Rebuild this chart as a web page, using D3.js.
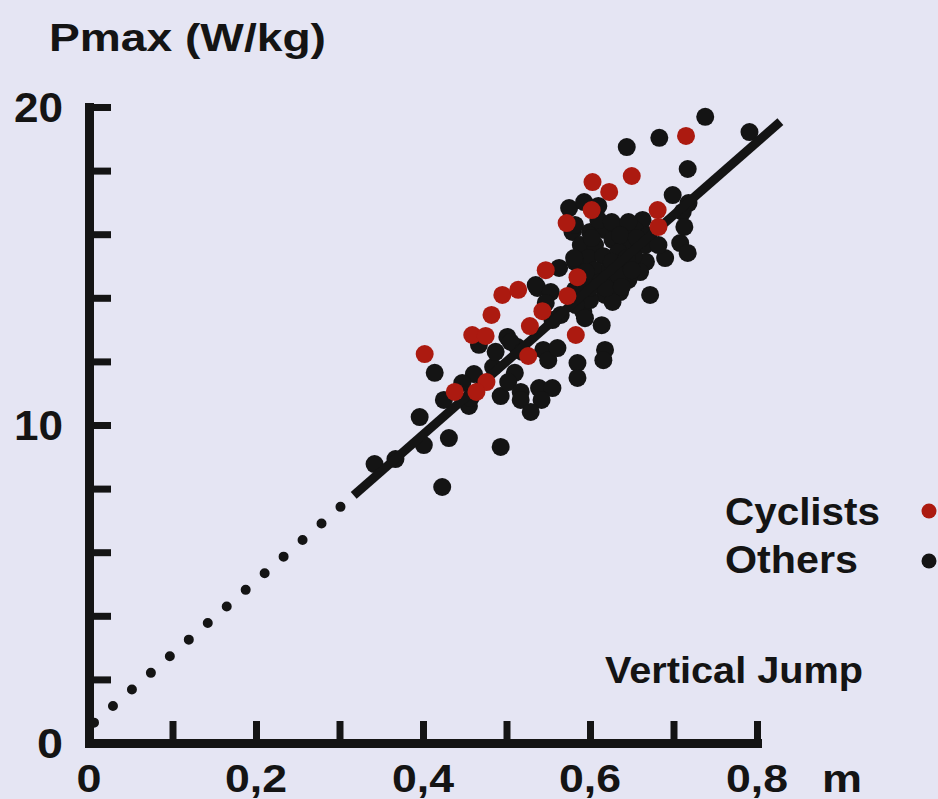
<!DOCTYPE html>
<html>
<head>
<meta charset="utf-8">
<script src="https://cdn.jsdelivr.net/npm/d3@7/dist/d3.min.js"></script>
<style>
  html, body { margin: 0; padding: 0; background: #e5e5f3; }
  svg { display: block; }
  text { font-family: "Liberation Sans", Arial, sans-serif; font-weight: bold; fill: #141414; }
</style>
</head>
<body>
<svg id="chart" width="938" height="799"></svg>
<script>
// ---- data ----
const xTicks = [0.1, 0.2, 0.3, 0.4, 0.5, 0.6, 0.7, 0.8];
const xLabels = [0, 0.2, 0.4, 0.6, 0.8];
const yTicks = [2, 4, 6, 8, 10, 12, 14, 16, 18, 20];
const yLabels = [0, 10, 20];

const cyclists = [
  [0.715,19.09],[0.650,17.83],[0.603,17.64],[0.623,17.33],[0.602,16.76],[0.681,16.76],
  [0.572,16.35],[0.682,16.23],[0.547,14.87],[0.585,14.65],[0.495,14.09],[0.514,14.25],
  [0.573,14.06],[0.482,13.46],[0.543,13.58],[0.528,13.11],[0.459,12.83],[0.475,12.80],
  [0.583,12.83],[0.402,12.23],[0.526,12.17],[0.476,11.35],[0.438,11.04],[0.464,11.04]
];

const others = [
  [0.738,19.69],[0.791,19.21],[0.683,19.03],[0.644,18.74],[0.717,18.05],[0.699,17.23],
  [0.718,16.98],[0.711,16.70],[0.575,16.82],[0.593,17.01],[0.610,16.89],[0.663,16.45],
  [0.713,16.23],[0.708,15.72],[0.717,15.41],[0.690,15.25],[0.667,15.13],[0.672,14.09],
  [0.563,14.94],[0.537,14.31],[0.592,13.55],[0.614,13.14],[0.618,12.36],[0.616,12.04],
  [0.467,12.52],[0.501,12.77],[0.513,12.45],[0.544,12.36],[0.550,12.04],[0.414,11.64],
  [0.461,11.60],[0.484,11.82],[0.510,11.64],[0.585,11.95],[0.585,11.48],[0.447,11.32],
  [0.493,10.91],[0.502,11.35],[0.517,11.04],[0.517,10.79],[0.539,11.16],[0.555,11.16],
  [0.542,10.79],[0.529,10.41],[0.425,10.79],[0.455,10.60],[0.457,10.85],[0.396,10.25],
  [0.431,9.59],[0.401,9.37],[0.493,9.31],[0.342,8.77],[0.367,8.93],[0.423,8.05],
  // dense cluster
  [0.600,16.07],[0.618,16.13],[0.636,16.19],[0.654,16.13],[0.670,15.97],[0.579,16.07],
  [0.589,15.66],[0.606,15.66],[0.627,15.82],[0.646,15.75],[0.666,15.66],[0.682,15.66],
  [0.598,15.25],[0.616,15.31],[0.634,15.44],[0.652,15.31],[0.582,15.13],
  [0.606,14.87],[0.624,14.94],[0.642,15.00],[0.660,14.81],
  [0.610,14.47],[0.628,14.56],[0.646,14.56],[0.618,14.09],[0.636,14.18],
  [0.600,13.93],[0.627,13.87],
  [0.582,16.29],[0.610,16.45],[0.626,16.38],[0.646,16.38],[0.602,15.88],[0.636,15.97],
  [0.656,15.88],[0.581,15.25],[0.626,15.13],[0.644,15.25],[0.595,14.81],[0.634,14.72],
  [0.650,14.87],[0.600,14.31],[0.619,14.31],[0.638,14.34],[0.582,14.25],
  // along the fit line, lower cluster
  [0.565,13.46],[0.583,13.77],[0.594,13.36],[0.555,13.30],[0.535,14.40],[0.553,14.18],
  [0.547,13.84],[0.505,12.61],[0.519,12.30],[0.561,12.42],[0.487,12.30]
];

const fitDotted = [[0.006, 0.64], [0.317, 7.79]];
const fitSolid  = [[0.317, 7.79], [0.828, 19.54]];

const legendItems = ["Cyclists", "Others"];

// ---- drawing ----
const svg = d3.select("#chart");
const ink = "#141414";
const red = "#ac1a10";

const x = d3.scaleLinear().domain([0, 0.8]).range([89, 757]);
const y = d3.scaleLinear().domain([0, 20]).range([743, 107]);

// axes (ticks inward)
const xAxis = d3.axisBottom(x).tickValues(xTicks).tickSizeInner(-22).tickSizeOuter(0).tickFormat("");
const yAxis = d3.axisLeft(y).tickValues(yTicks).tickSizeInner(-22).tickSizeOuter(0).tickFormat("");

const gx = svg.append("g").attr("transform", `translate(0,${y(0)})`).call(xAxis);
const gy = svg.append("g").attr("transform", `translate(${x(0)},0)`).call(yAxis);
[gx, gy].forEach(g => {
  g.select(".domain").attr("stroke", ink).attr("stroke-width", 9).attr("stroke-linecap", "square");
  g.selectAll(".tick line").attr("stroke", ink).attr("stroke-width", 7);
});

// tick labels
const fmt = v => v === 0 ? "0" : d3.format(".1f")(v).replace(".", ",");
svg.append("g").selectAll("text").data(xLabels).join("text")
  .attr("x", d => x(d) - (d === 0 ? 12.5 : 31))
  .attr("y", 792)
  .attr("font-size", 39)
  .attr("textLength", d => d === 0 ? 25 : 62)
  .attr("lengthAdjust", "spacingAndGlyphs")
  .text(fmt);

svg.append("g").selectAll("text").data(yLabels).join("text")
  .attr("x", d => d === 0 ? 37 : 14)
  .attr("y", d => y(d) + 15)
  .attr("font-size", 42)
  .attr("textLength", d => d === 0 ? 26 : 49)
  .attr("lengthAdjust", "spacingAndGlyphs")
  .text(d => String(d));

// titles
svg.append("text").attr("x", 49).attr("y", 51).attr("font-size", 39)
  .attr("textLength", 277).attr("lengthAdjust", "spacingAndGlyphs").text("Pmax (W/kg)");
svg.append("text").attr("x", 605).attr("y", 683).attr("font-size", 37)
  .attr("textLength", 258).attr("lengthAdjust", "spacingAndGlyphs").text("Vertical Jump");
svg.append("text").attr("x", 822).attr("y", 792).attr("font-size", 39)
  .attr("textLength", 40).attr("lengthAdjust", "spacingAndGlyphs").text("m");

// points: others
svg.append("g").selectAll("circle").data(others).join("circle")
  .attr("cx", d => x(d[0])).attr("cy", d => y(d[1])).attr("r", 9).attr("fill", ink);

// fit line
const line = d3.line().x(d => x(d[0])).y(d => y(d[1]));
svg.append("path").datum(fitDotted).attr("d", line)
  .attr("fill", "none").attr("stroke", ink).attr("stroke-width", 10)
  .attr("stroke-linecap", "round").attr("stroke-dasharray", "0 25.2");
svg.append("path").datum(fitSolid).attr("d", line)
  .attr("fill", "none").attr("stroke", ink).attr("stroke-width", 9);

// points: cyclists
svg.append("g").selectAll("circle").data(cyclists).join("circle")
  .attr("cx", d => x(d[0])).attr("cy", d => y(d[1])).attr("r", 9).attr("fill", red);

// legend
const legend = svg.append("g");
const legW = [155, 133];
legendItems.forEach((name, i) => {
  legend.append("text").attr("x", 725).attr("y", 525 + i * 48).attr("font-size", 39)
    .attr("textLength", legW[i]).attr("lengthAdjust", "spacingAndGlyphs").text(name);
  legend.append("circle").attr("cx", 929).attr("cy", 511 + i * 50).attr("r", 7.5)
    .attr("fill", i === 0 ? red : ink);
});
</script>
</body>
</html>
